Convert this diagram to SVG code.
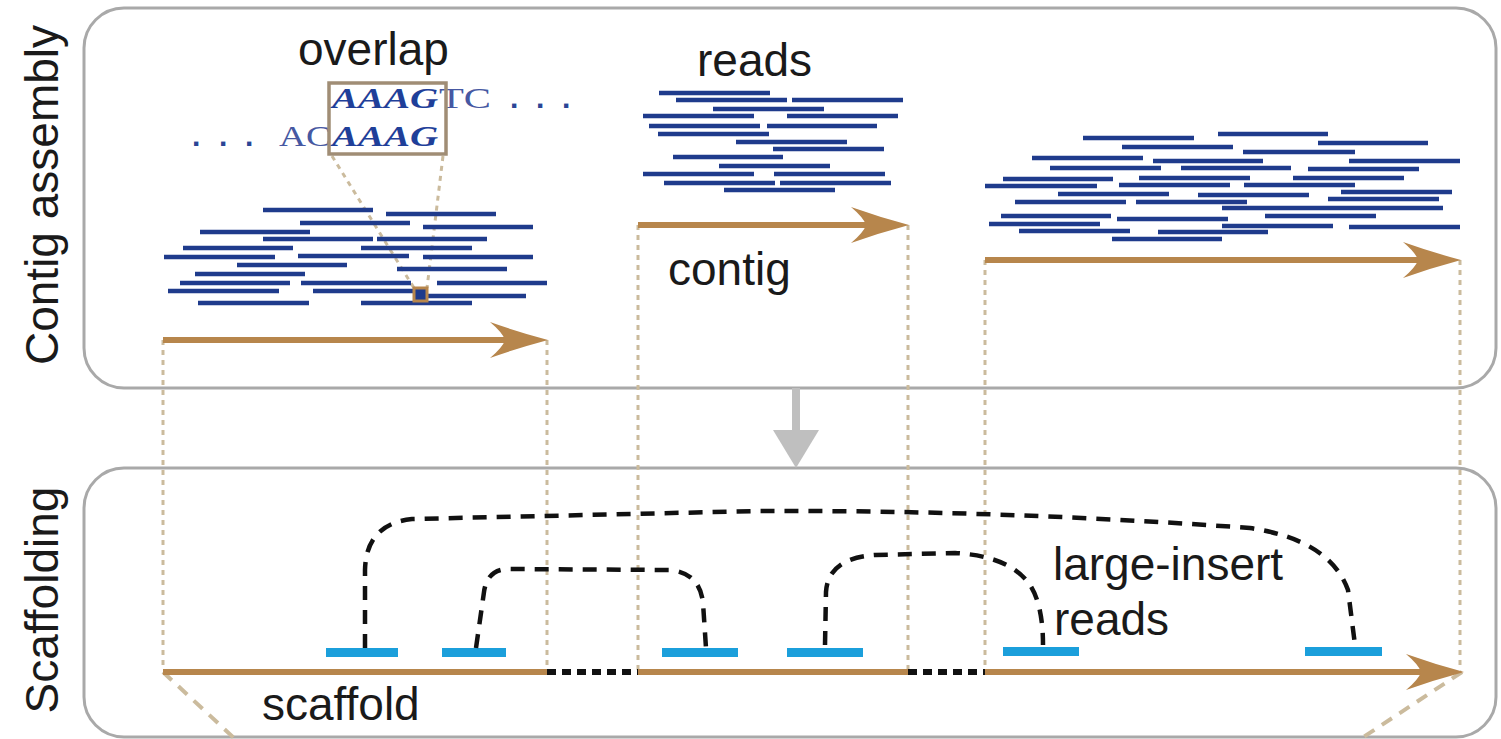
<svg xmlns="http://www.w3.org/2000/svg" xmlns:xlink="http://www.w3.org/1999/xlink" width="1501" height="739" viewBox="0 0 1501 739">
<style>
.panel{fill:none;stroke:#a9a9a9;stroke-width:3}
.lbl{font-family:"Liberation Sans",Arial,sans-serif;font-size:46px;fill:#1a1a1a}
.r{stroke:#1f3b8c;stroke-width:4.5;stroke-linecap:butt}
.contig{stroke:#b7864c;stroke-width:6;fill:none}
.head{fill:#b7864c}
.guide{stroke:#cbbb9d;stroke-width:3;stroke-dasharray:5 5;fill:none}
.diag{stroke:#cbbb9d;stroke-width:4;stroke-dasharray:12 9;fill:none}
.gap{stroke:#111;stroke-width:6;stroke-dasharray:9 6;fill:none}
.pair{stroke:#111;stroke-width:4.5;stroke-dasharray:14 10;fill:none}
.li{stroke:#1b9fdb;stroke-width:9}
.seq{font-family:"Liberation Serif","Times New Roman",serif;font-size:30px}
.bold{fill:#1f3f99;font-weight:bold;font-style:italic}
.thin{fill:#4658a2}
.dots{font-family:"Liberation Sans",Arial,sans-serif;font-size:30px;font-weight:bold;fill:#2a4596}
</style>
<defs>
<path id="ah" d="M0,0 Q-30,-8 -58,-18 Q-45,-7 -43,0 Q-45,7 -58,18 Q-30,8 0,0 Z"/>
</defs>

<g id="panel-contig">
<rect class="panel" x="84" y="8" width="1412" height="380" rx="40"/>
<text class="lbl" transform="translate(58,195) rotate(-90)" text-anchor="middle">Contig assembly</text>
</g>
<g id="panel-scaffold">
<rect class="panel" x="84" y="468" width="1412" height="269" rx="40"/>
<text class="lbl" transform="translate(58,600) rotate(-90)" text-anchor="middle">Scaffolding</text>
</g>

<g id="guides">
<line class="guide" x1="163" y1="340" x2="163" y2="670"/>
<line class="guide" x1="547" y1="340" x2="547" y2="670"/>
<line class="guide" x1="638" y1="225" x2="638" y2="670"/>
<line class="guide" x1="908" y1="225" x2="908" y2="670"/>
<line class="guide" x1="985" y1="260" x2="985" y2="670"/>
<line class="guide" x1="1460" y1="260" x2="1460" y2="670"/>
<line class="diag" x1="163" y1="672" x2="234" y2="738"/>
<line class="diag" x1="1462" y1="672" x2="1362" y2="738"/>
<line class="guide" x1="332" y1="156" x2="414" y2="288"/>
<line class="guide" x1="443" y1="156" x2="427" y2="288"/>
</g>

<g id="contig1">
<line class="r" x1="263" y1="210" x2="373" y2="210"/>
<line class="r" x1="386" y1="214" x2="496" y2="214"/>
<line class="r" x1="300" y1="223" x2="410" y2="223"/>
<line class="r" x1="423" y1="227" x2="533" y2="227"/>
<line class="r" x1="200" y1="232" x2="310" y2="232"/>
<line class="r" x1="263" y1="239" x2="373" y2="239"/>
<line class="r" x1="377" y1="239" x2="487" y2="239"/>
<line class="r" x1="183" y1="248" x2="293" y2="248"/>
<line class="r" x1="361" y1="248" x2="472" y2="248"/>
<line class="r" x1="298" y1="256" x2="409" y2="256"/>
<line class="r" x1="164" y1="257" x2="275" y2="257"/>
<line class="r" x1="423" y1="257" x2="533" y2="257"/>
<line class="r" x1="237" y1="265" x2="347" y2="265"/>
<line class="r" x1="397" y1="269" x2="507" y2="269"/>
<line class="r" x1="195" y1="274" x2="305" y2="274"/>
<line class="r" x1="180" y1="283" x2="290" y2="283"/>
<line class="r" x1="301" y1="283" x2="411" y2="283"/>
<line class="r" x1="437" y1="283" x2="547" y2="283"/>
<line class="r" x1="168" y1="291" x2="279" y2="291"/>
<line class="r" x1="313" y1="291" x2="413" y2="291"/>
<line class="r" x1="426" y1="296" x2="526" y2="296"/>
<line class="r" x1="198" y1="303" x2="309" y2="303"/>
<line class="r" x1="361" y1="303" x2="472" y2="303"/>
<rect x="414" y="288" width="13" height="13" fill="#1f3b8c" stroke="#b7864c" stroke-width="3"/>
<line class="contig" x1="163" y1="340" x2="520" y2="340"/>
<use xlink:href="#ah" class="head" transform="translate(548,340)"/>
</g>

<g id="overlap">
<text class="lbl" x="298" y="65">overlap</text>
<text class="seq bold" x="332" y="108" textLength="106" lengthAdjust="spacingAndGlyphs">AAAG</text>
<text class="seq thin" x="439" y="108" textLength="52" lengthAdjust="spacingAndGlyphs">TC</text>
<text class="dots" x="510 536 562" y="108">...</text>
<text class="dots" x="192 219 245" y="146">...</text>
<text class="seq thin" x="279" y="146" textLength="52" lengthAdjust="spacingAndGlyphs">AC</text>
<text class="seq bold" x="332" y="146" textLength="106" lengthAdjust="spacingAndGlyphs">AAAG</text>
<rect x="329" y="83" width="117" height="71" fill="none" stroke="#a08d75" stroke-width="3.5"/>
</g>

<g id="contig2">
<text class="lbl" x="697" y="76">reads</text>
<line class="r" x1="659" y1="93" x2="770" y2="93"/>
<line class="r" x1="676" y1="100" x2="787" y2="100"/>
<line class="r" x1="792" y1="100" x2="903" y2="100"/>
<line class="r" x1="713" y1="109" x2="824" y2="109"/>
<line class="r" x1="643" y1="116" x2="754" y2="116"/>
<line class="r" x1="787" y1="116" x2="898" y2="116"/>
<line class="r" x1="649" y1="126" x2="760" y2="126"/>
<line class="r" x1="767" y1="126" x2="877" y2="126"/>
<line class="r" x1="658" y1="134" x2="769" y2="134"/>
<line class="r" x1="736" y1="142" x2="847" y2="142"/>
<line class="r" x1="773" y1="149" x2="884" y2="149"/>
<line class="r" x1="673" y1="157" x2="783" y2="157"/>
<line class="r" x1="719" y1="166" x2="830" y2="166"/>
<line class="r" x1="643" y1="174" x2="754" y2="174"/>
<line class="r" x1="774" y1="174" x2="885" y2="174"/>
<line class="r" x1="664" y1="183" x2="775" y2="183"/>
<line class="r" x1="780" y1="183" x2="891" y2="183"/>
<line class="r" x1="724" y1="190" x2="835" y2="190"/>
<line class="contig" x1="638" y1="225" x2="880" y2="225"/>
<use xlink:href="#ah" class="head" transform="translate(909,225)"/>
<text class="lbl" x="668" y="285">contig</text>
</g>

<g id="contig3">
<line class="r" x1="1083" y1="138" x2="1194" y2="138"/>
<line class="r" x1="1218" y1="134" x2="1328" y2="134"/>
<line class="r" x1="1318" y1="143" x2="1428" y2="143"/>
<line class="r" x1="1122" y1="147" x2="1233" y2="147"/>
<line class="r" x1="1243" y1="152" x2="1355" y2="152"/>
<line class="r" x1="1032" y1="158" x2="1143" y2="158"/>
<line class="r" x1="1153" y1="161" x2="1263" y2="161"/>
<line class="r" x1="1349" y1="161" x2="1460" y2="161"/>
<line class="r" x1="1050" y1="168" x2="1161" y2="168"/>
<line class="r" x1="1181" y1="168" x2="1291" y2="168"/>
<line class="r" x1="1308" y1="169" x2="1419" y2="169"/>
<line class="r" x1="1003" y1="179" x2="1113" y2="179"/>
<line class="r" x1="1139" y1="178" x2="1250" y2="178"/>
<line class="r" x1="1293" y1="178" x2="1404" y2="178"/>
<line class="r" x1="985" y1="186" x2="1097" y2="186"/>
<line class="r" x1="1119" y1="185" x2="1230" y2="185"/>
<line class="r" x1="1244" y1="185" x2="1355" y2="185"/>
<line class="r" x1="1341" y1="192" x2="1452" y2="192"/>
<line class="r" x1="1058" y1="194" x2="1169" y2="194"/>
<line class="r" x1="1198" y1="195" x2="1309" y2="195"/>
<line class="r" x1="1328" y1="199" x2="1439" y2="199"/>
<line class="r" x1="1015" y1="202" x2="1126" y2="202"/>
<line class="r" x1="1136" y1="202" x2="1247" y2="202"/>
<line class="r" x1="1222" y1="208" x2="1443" y2="208"/>
<line class="r" x1="1001" y1="216" x2="1111" y2="216"/>
<line class="r" x1="1117" y1="219" x2="1228" y2="219"/>
<line class="r" x1="1265" y1="216" x2="1376" y2="216"/>
<line class="r" x1="989" y1="224" x2="1100" y2="224"/>
<line class="r" x1="1222" y1="226" x2="1333" y2="226"/>
<line class="r" x1="1349" y1="227" x2="1460" y2="227"/>
<line class="r" x1="1019" y1="231" x2="1130" y2="231"/>
<line class="r" x1="1158" y1="232" x2="1268" y2="232"/>
<line class="r" x1="1112" y1="239" x2="1222" y2="239"/>
<line class="contig" x1="985" y1="260" x2="1432" y2="260"/>
<use xlink:href="#ah" class="head" transform="translate(1461,260)"/>
</g>

<g id="step-arrow">
<line x1="796" y1="388" x2="796" y2="433" stroke="#bfbfbf" stroke-width="8"/>
<polygon points="773,430 819,430 796,468" fill="#bfbfbf"/>
</g>

<g id="scaffold">
<line class="contig" x1="163" y1="672" x2="547" y2="672"/>
<line class="contig" x1="638" y1="672" x2="908" y2="672"/>
<line class="contig" x1="985" y1="672" x2="1435" y2="672"/>
<use xlink:href="#ah" class="head" transform="translate(1464,672)"/>
<line class="gap" x1="547" y1="672" x2="638" y2="672"/>
<line class="gap" x1="908" y1="672" x2="985" y2="672"/>
<text class="lbl" x="262" y="720">scaffold</text>
</g>

<g id="large-insert-reads">
<line class="li" x1="326" y1="652.5" x2="398" y2="652.5"/>
<line class="li" x1="442" y1="652.5" x2="506" y2="652.5"/>
<line class="li" x1="662" y1="652.5" x2="738" y2="652.5"/>
<line class="li" x1="787" y1="652.5" x2="863" y2="652.5"/>
<line class="li" x1="1003" y1="651.5" x2="1079" y2="651.5"/>
<line class="li" x1="1305" y1="651.5" x2="1382" y2="651.5"/>
<text class="lbl" x="1053" y="580">large-insert</text>
<text class="lbl" x="1054" y="635">reads</text>
</g>

<g id="connectors">
<path class="pair" d="M365,648 L365,570 Q366,524 412,519 L760,511 Q1000,510 1250,528 Q1330,540 1348,590 L1355,645"/>
<path class="pair" d="M476,648 L484,592 Q487,570 507,569 L670,570 Q700,573 703,603 L706,648"/>
<path class="pair" d="M825,645 L826,592 Q828,558 875,555 L955,553 Q1010,556 1030,585 Q1043,605 1043,645"/>
</g>
</svg>
